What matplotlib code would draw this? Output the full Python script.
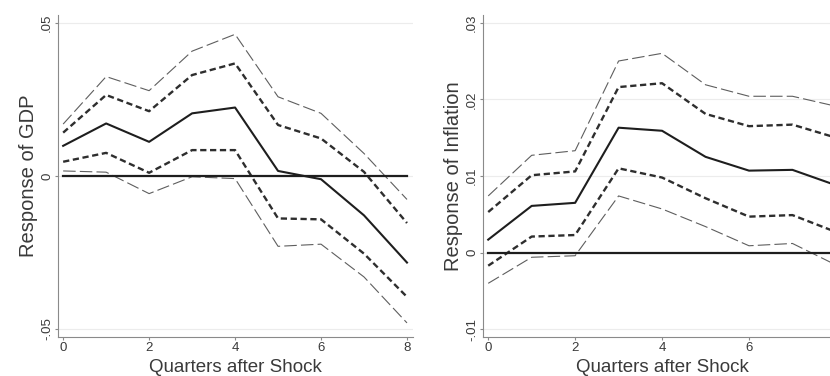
import matplotlib
matplotlib.use("Agg")
import matplotlib.pyplot as plt
import numpy as np

plt.rcParams["font.family"] = ["Liberation Sans", "DejaVu Sans"]
plt.rcParams["lines.scale_dashes"] = False

# ── Data ─────────────────────────────────────────────────────────────
quarters = [0, 1, 2, 3, 4, 5, 6, 7, 8]

gdp_irf = [0.0098, 0.0171, 0.0111, 0.0204, 0.0223, 0.0016, -0.0011, -0.0129, -0.0283]
gdp_inner_hi = [0.0141, 0.0264, 0.0211, 0.0329, 0.0367, 0.0166, 0.0122, 0.0013, -0.0154]
gdp_inner_lo = [0.0046, 0.0075, 0.0010, 0.0084, 0.0084, -0.0139, -0.0142, -0.0254, -0.0395]
gdp_outer_hi = [0.0169, 0.0324, 0.0278, 0.0407, 0.0462, 0.0258, 0.0204, 0.0073, -0.0077]
gdp_outer_lo = [0.0016, 0.0012, -0.0058, -0.0003, -0.0009, -0.0230, -0.0223, -0.0330, -0.0480]

inf_irf = [0.0017, 0.0061, 0.0065, 0.0163, 0.0159, 0.0125, 0.0107, 0.0108, 0.0088]
inf_inner_hi = [0.0053, 0.0101, 0.0106, 0.0216, 0.0221, 0.0181, 0.0165, 0.0167, 0.0150]
inf_inner_lo = [-0.0017, 0.0021, 0.0023, 0.0110, 0.0098, 0.0071, 0.0047, 0.0049, 0.0027]
inf_outer_hi = [0.0074, 0.0127, 0.0133, 0.0250, 0.0260, 0.0219, 0.0204, 0.0204, 0.0191]
inf_outer_lo = [-0.0040, -0.0006, -0.0004, 0.0074, 0.0057, 0.0034, 0.0009, 0.0012, -0.0016]

gdp_yticks = [-0.05, 0, 0.05]
gdp_ylabels = ["-.05", "0", ".05"]
inf_yticks = [-0.01, 0, 0.01, 0.02, 0.03]
inf_ylabels = ["-.01", "0", ".01", ".02", ".03"]
gdp_xticks = [0, 2, 4, 6, 8]
inf_xticks = [0, 2, 4, 6]   # the 8 falls off the cropped right edge

W, H = 830, 376
fig = plt.figure(figsize=(W / 100, H / 100), dpi=100)
fig.patch.set_facecolor("white")

AX_GRAY = "#8a8a8a"
TXT = "#3a3a3a"
AX_BOTTOM, AX_TOP = 337, 15     # pixel rows of the plot area


def draw_panel(ax, irf, ihi, ilo, ohi, olo, xticks, yticks, ylabels, ylim, ylabel):
    ax.set_xlim(-0.12, 8.14)
    ax.set_ylim(*ylim)
    ax.set_yticks(yticks)
    ax.set_yticklabels(ylabels, rotation=90, va="center")
    ax.set_xticks(xticks)
    ax.set_xticklabels([str(t) for t in xticks])
    ax.grid(axis="y", color="#ececec", linewidth=0.8)
    ax.set_axisbelow(True)

    # 90% and 68% bands, then the point estimate
    ax.plot(quarters, ohi, color="#5e5e5e", linewidth=0.8, dashes=(9, 3))
    ax.plot(quarters, olo, color="#5e5e5e", linewidth=0.8, dashes=(9, 3))
    ax.plot(quarters, ihi, color="#2e2e2e", linewidth=1.7, dashes=(4.5, 2.6))
    ax.plot(quarters, ilo, color="#2e2e2e", linewidth=1.7, dashes=(4.5, 2.6))
    ax.plot(quarters, irf, color="#1e1e1e", linewidth=1.5)
    ax.plot([quarters[0], quarters[-1]], [0, 0], color="#1e1e1e", linewidth=1.6)

    for side in ("top", "right"):
        ax.spines[side].set_visible(False)
    for side in ("left", "bottom"):
        ax.spines[side].set_color(AX_GRAY)
        ax.spines[side].set_linewidth(0.8)
    ax.tick_params(direction="out", length=2.5, width=0.8, color=AX_GRAY,
                   labelsize=9.5, labelcolor=TXT, pad=1)
    ax.set_xlabel("Quarters after Shock", fontsize=13.5, color=TXT)
    # put the x label baseline near row 372, as in the original
    ax.xaxis.label.set_verticalalignment("baseline")
    ax.xaxis.set_label_coords(0.5, -(372 - AX_BOTTOM) / (AX_BOTTOM - AX_TOP))
    ax.set_ylabel(ylabel, fontsize=14.5, color=TXT, labelpad=2)


ax1 = fig.add_axes([58 / W, 1 - AX_BOTTOM / H, 355 / W, (AX_BOTTOM - AX_TOP) / H])
draw_panel(ax1, gdp_irf, gdp_inner_hi, gdp_inner_lo, gdp_outer_hi, gdp_outer_lo,
           gdp_xticks, gdp_yticks, gdp_ylabels, (-0.0526, 0.0525), "Response of GDP")

# right panel runs past the figure edge, as in the original crop
ax2 = fig.add_axes([483 / W, 1 - AX_BOTTOM / H, 359 / W, (AX_BOTTOM - AX_TOP) / H])
draw_panel(ax2, inf_irf, inf_inner_hi, inf_inner_lo, inf_outer_hi, inf_outer_lo,
           inf_xticks, inf_yticks, inf_ylabels, (-0.011, 0.031), "Response of Inflation")

fig.savefig("out.png", dpi=100, facecolor="white")
